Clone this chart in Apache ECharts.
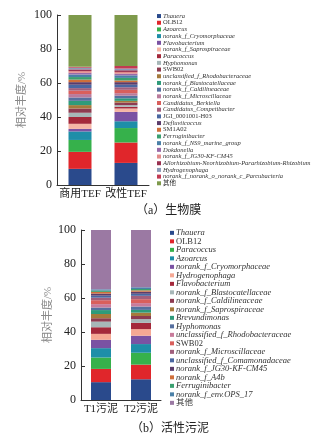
<!DOCTYPE html>
<html><head><meta charset="utf-8">
<script src="https://cdn.jsdelivr.net/npm/echarts@6/dist/echarts.min.js"></script>
<style>html,body{margin:0;padding:0;background:#fff}#c{width:324px;height:439px}</style>
</head><body><div id="c"></div>
<script>
// ---------- chart (a) biofilm ----------
const catsA = ['商用TEF', '改性TEF'];
const namesA = ['Thauera','OLB12','Azoarcus','norank_f_Cryomorphaceae','Flavobacterium','norank_f_Saprospiraceae','Paracoccus','Hyphomonas','SWB02','unclassified_f_Rhodobacteraceae','norank_f_Blastocatellaceae','norank_f_Caldilineaceae','norank_f_Microscillaceae','Candidatus_Berkiella','Candidatus_Competibacter','JGI_0001001-H03','Defluviicoccus','SM1A02','Ferruginibacter','norank_f_NS9_marine_group','Dokdonella','norank_f_JG30-KF-CM45','Allorhizobium-Neorhizobium-Pararhizobium-Rhizobium','Hydrogenophaga','norank_f_norank_o_norank_c_Parcubacteria','其他'];
const tefCommercial = [9.5,10,7,5,1.5,3,4,2.5,2.5,2,2.5,2,2,2,1.5,2,1.5,1.5,1.5,1.5,1,1,1,1,0.5,30.5];
const tefModified   = [13,12,8.5,4,5.5,2,1,1,1.5,1,1.5,1.5,1.5,2,1.5,1.5,1.5,1,1.5,1.5,1,1,1,1,1.5,30];
const colorsA = ['#2a4a8c','#e0262b','#36b14b','#1e8ea8','#7a52a3','#f5b5a5','#a4283a','#a7b7b8','#8e3b50','#a57a3c','#2e9b7a','#56709f','#b97b9c','#d95f5c','#a15f7c','#4a67a1','#5b3c6b','#d06f3a','#3aa070','#4a80a8','#9a6aa8','#e28b8b','#993050','#8b9bb8','#c23a52','#7e9a4b'];

// ---------- chart (b) activated sludge ----------
const catsB = ['T1污泥', 'T2污泥'];
const namesB = ['Thauera','OLB12','Paracoccus','Azoarcus','norank_f_Cryomorphaceae','Hydrogenophaga','Flavobacterium','norank_f_Blastocatellaceae','norank_f_Caldilineaceae','norank_f_Saprospiraceae','Brevundimonas','Hyphomonas','unclassified_f_Rhodobacteraceae','SWB02','norank_f_Microscillaceae','unclassified_f_Comamonadaceae','norank_f_JG30-KF-CM45','norank_f_A4b','Ferruginibacter','norank_f_env.OPS_17','其他'];
const sludgeT1 = [10.5,7.8,6.7,5.5,4.9,3.5,3.9,3.3,2,2.5,2.3,1.5,2,2.3,1.5,1.2,1.2,1,0.8,0.7,34.9];
const sludgeT2 = [12.2,8.6,7,5.1,4.9,3.9,3.7,2.2,1.8,2,1.6,2,2,2.3,2,1.2,1.2,0.8,0.8,1,33.7];
const colorsB = ['#2a4a8c','#e0262b','#36b14b','#1e8ea8','#7a52a3','#f5a894','#a4283a','#a7b7b8','#8e3b50','#a57a3c','#2e9b7a','#56709f','#c87b9b','#d95f5c','#a15f7c','#4a67a1','#5b3c6b','#d06f3a','#3aa070','#4a80a8','#9b79a3'];

const yTicks = [0, 20, 40, 60, 80, 100];

const upright = new Set(['OLB12','SWB02','SM1A02','JGI_0001001-H03','其他']);
const fmt = n => upright.has(n) ? '{n|' + n + '}' : '{i|' + n + '}';

const serif = '"Liberation Serif","Noto Sans CJK SC",serif';

function yAxis(gi, gap) {
  return {
    gridIndex: gi, type: 'value', min: yTicks[0], max: yTicks[yTicks.length - 1], interval: 20,
    name: '相对丰度/%', nameLocation: 'middle', nameGap: gap,
    nameTextStyle: { color: '#888', fontSize: 11, fontFamily: serif },
    axisLine: { show: true, lineStyle: { color: '#333', width: 1 } },
    axisTick: { show: true, inside: true, length: 4, lineStyle: { color: '#333' } },
    axisLabel: { color: '#222', fontSize: 12, fontFamily: serif, margin: 5 },
    splitLine: { show: false }
  };
}
function xAxis(gi, cats) {
  return {
    gridIndex: gi, type: 'category', data: cats,
    axisLine: { show: true, lineStyle: { color: '#333', width: 1 } },
    axisTick: { show: false },
    axisLabel: { color: '#222', fontSize: 11, fontFamily: serif, margin: 4, interval: 0, hideOverlap: false }
  };
}
function legend(names, colors, left, top, fs, lh) {
  return {
    orient: 'vertical', left: left, top: top, padding: 0, itemGap: 0,
    itemWidth: 4, itemHeight: 4, icon: 'rect',
    data: names.map((n, i) => ({ name: n, itemStyle: { color: colors[i] } })),
    formatter: fmt,
    textStyle: {
      fontFamily: serif, fontSize: fs, lineHeight: lh, color: '#333', padding: [0, 0, 0, -3],
      rich: {
        i: { fontStyle: 'italic', fontFamily: serif, fontSize: fs, lineHeight: lh, color: '#333' },
        n: { fontFamily: serif, fontSize: fs, lineHeight: lh, color: '#333' }
      }
    }
  };
}

const series = [];
namesA.forEach((n, i) => series.push({
  name: n, type: 'bar', stack: 'a', xAxisIndex: 0, yAxisIndex: 0, barWidth: 23,
  itemStyle: { color: colorsA[i] }, data: [tefCommercial[i], tefModified[i]]
}));
namesB.forEach((n, i) => series.push({
  name: n, type: 'bar', stack: 'b', xAxisIndex: 1, yAxisIndex: 1, barWidth: 20,
  itemStyle: { color: colorsB[i] }, data: [sludgeT1[i], sludgeT2[i]]
}));

const chart = echarts.init(document.getElementById('c'), null, { renderer: 'canvas' });
chart.setOption({
  animation: false,
  grid: [
    { left: 57, top: 15, width: 92, height: 170 },
    { left: 81, top: 230, width: 80, height: 170 }
  ],
  xAxis: [xAxis(0, catsA), xAxis(1, catsB)],
  yAxis: [yAxis(0, 29), yAxis(1, 22)],
  legend: [
    legend(namesA, colorsA, 157, 12.7, 6.5, 6.69),
    legend(namesB, colorsB, 170, 228.6, 8.5, 8.12)
  ],
  graphic: [
    { type: 'text', left: 136, top: 205, style: { text: '（a）生物膜', fontSize: 12, fontFamily: serif, fill: '#222' } },
    { type: 'text', left: 131, top: 423, style: { text: '（b）活性污泥', fontSize: 12, fontFamily: serif, fill: '#222' } }
  ],
  series: series
});
</script></body></html>
